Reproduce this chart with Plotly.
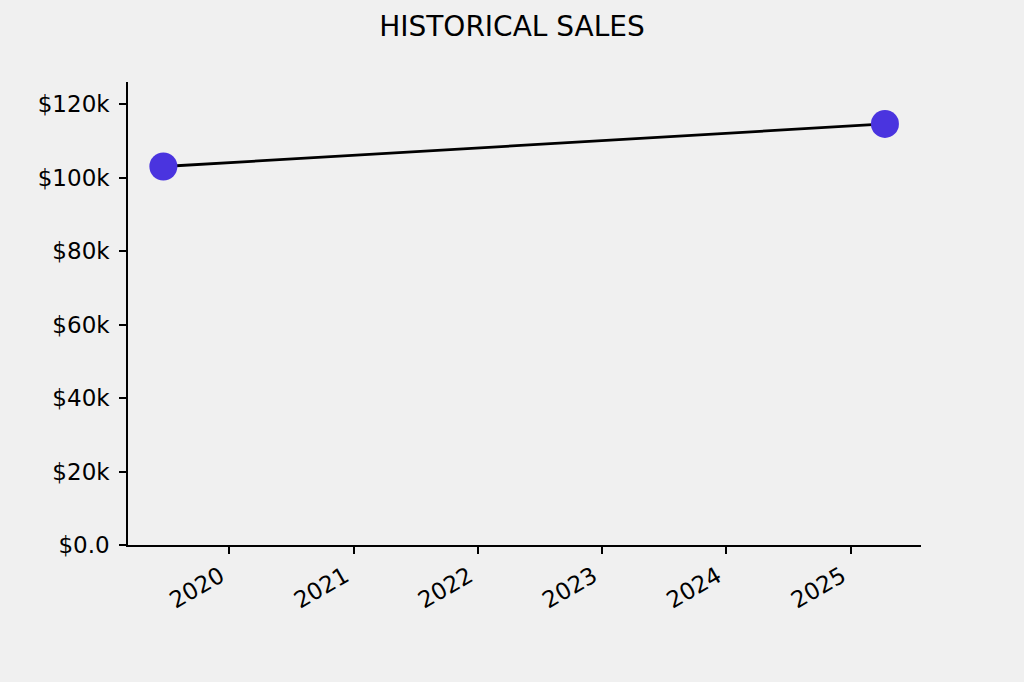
import plotly.graph_objects as go

# historical sales points
dates = ["2019-06-21", "2025-04-11"]
sales = [103000, 114600]

year_ticks = ["2020-01-01", "2021-01-01", "2022-01-01", "2023-01-01", "2024-01-01", "2025-01-01"]
year_labels = ["2020", "2021", "2022", "2023", "2024", "2025"]
y_ticks = [0, 20000, 40000, 60000, 80000, 100000, 120000]
y_labels = ["$0.0", "$20k", "$40k", "$60k", "$80k", "$100k", "$120k"]

fig = go.Figure()
fig.add_trace(go.Scatter(
    x=dates, y=sales, mode="lines+markers",
    line=dict(color="black", width=2.8),
    marker=dict(color="#4a34df", size=28, line=dict(width=0)),
    cliponaxis=False,
))

fig.update_layout(
    width=1024, height=682,
    paper_bgcolor="#f0f0f0", plot_bgcolor="#f0f0f0",
    font=dict(family="DejaVu Sans", size=23, color="black"),
    title=dict(text="HISTORICAL SALES", x=0.5, xanchor="center", y=0.962, yanchor="middle",
               font=dict(size=28, color="black")),
    margin=dict(l=128, r=103, t=82, b=137),
    showlegend=False,
)
fig.update_xaxes(
    type="date", range=["2019-03-09", "2025-07-26"],
    tickvals=year_ticks, ticktext=year_labels, tickangle=-30,
    ticklabelshift=-9,
    showgrid=False, zeroline=False, showline=True, linecolor="black", linewidth=1.6,
    ticks="outside", ticklen=7, tickwidth=1.6, tickcolor="black",
)
fig.update_yaxes(
    range=[0, 126000],
    tickvals=y_ticks, ticktext=y_labels, ticklabelstandoff=5,
    showgrid=False, zeroline=False, showline=True, linecolor="black", linewidth=1.6,
    ticks="outside", ticklen=7, tickwidth=1.6, tickcolor="black",
)

fig.write_html("out.html", config={"displayModeBar": False},
               post_script="document.body.style.margin='0';")
